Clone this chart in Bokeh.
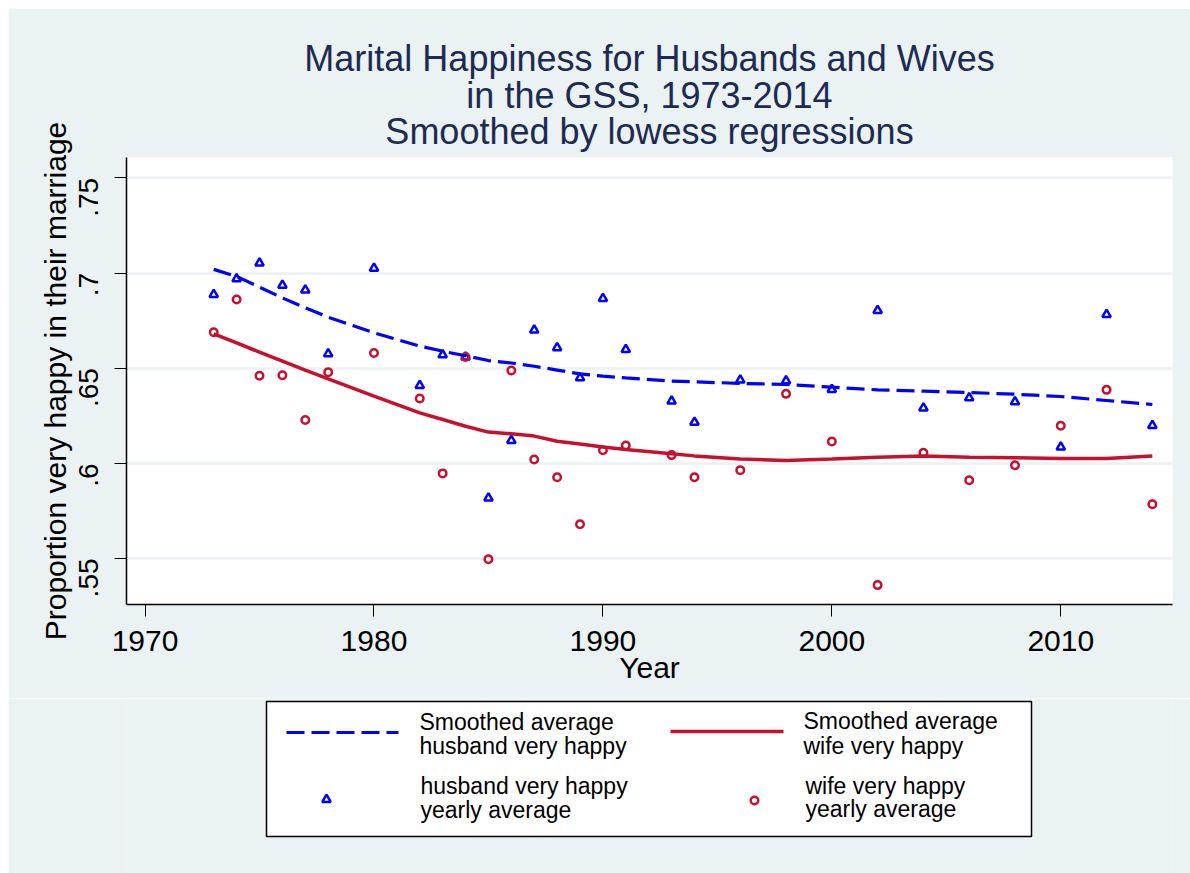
import math
from bokeh.plotting import figure
from bokeh.models import Range1d, FixedTicker, Title
from bokeh.layouts import column
from bokeh.core.properties import value
from bokeh.embed import file_html
from bokeh.resources import INLINE

years = [1973, 1974, 1975, 1976, 1977, 1978, 1980, 1982, 1983, 1984, 1985, 1986,
         1987, 1988, 1989, 1990, 1991, 1993, 1994, 1996, 1998, 2000, 2002, 2004,
         2006, 2008, 2010, 2012, 2014]
husband = [.6887, .6969, .7052, .6936, .6911, .6575, .7025, .6409, .6570, .6558, .5818, .6120,
           .6700, .6607, .6449, .6866, .6598, .6327, .6216, .6437, .6433, .6388, .6803, .6291,
           .6344, .6323, .6085, .6782, .6199]
wife = [.6689, .6861, .6460, .6463, .6228, .6479, .6580, .6341, .5947, .6559, .5496, .6488,
        .6020, .5927, .5680, .6069, .6094, .6043, .5927, .5964, .6365, .6115, .5360, .6055,
        .5911, .5990, .6197, .6386, .5785]
husband_smooth = [.7019, .6982, .6926, .6869, .6817, .6768, .6686, .6616, .6589, .6565, .6540, .6527,
                  .6510, .6490, .6470, .6458, .6449, .6432, .6428, .6420, .6414, .6400, .6386, .6379,
                  .6372, .6363, .6351, .6330, .6309]
wife_smooth = [.6680, .6633, .6584, .6537, .6490, .6444, .6353, .6265, .6230, .6195, .6164, .6155,
               .6143, .6116, .6102, .6086, .6073, .6050, .6039, .6022, .6015, .6023, .6032, .6039,
               .6032, .6029, .6025, .6025, .6039]

x_ticks = [1970, 1980, 1990, 2000, 2010]
y_ticks = [0.55, 0.60, 0.65, 0.70, 0.75]
y_tick_labels = [".55", ".6", ".65", ".7", ".75"]

title_lines = ["Marital Happiness for Husbands and Wives",
               "in the GSS, 1973-2014",
               "Smoothed by lowess regressions"]
x_label = "Year"
y_label = "Proportion very happy in their marriage"
legend_labels = [
    ["Smoothed average", "husband very happy"],
    ["Smoothed average", "wife very happy"],
    ["husband very happy", "yearly average"],
    ["wife very happy", "yearly average"],
]

BG = "#EAF2F3"
BLUE = "#0000FF"
RED = "#C8102E"
TITLE_COLOR = "#1D2B53"
FONT = "Liberation Sans"
W = 1182
BL, BR = 118, 18
FW = W - BL - BR  # 1046

# ---------- main plot ----------
p = figure(width=W, height=690, output_backend="svg", toolbar_location=None,
           x_range=Range1d(1969.19, 2014.88), y_range=Range1d(0.5258, 0.7607),
           min_border_left=BL, min_border_right=BR, min_border_top=149, min_border_bottom=94)
p.background_fill_color = "white"
p.border_fill_color = BG
p.outline_line_color = None

# title: three stacked Title panels (first added sits nearest the frame)
for txt, so in zip(reversed(title_lines), [11, -24, 11]):
    p.add_layout(Title(text=txt, align="center", text_font=FONT, text_font_size="36px",
                       text_font_style="normal", text_color=TITLE_COLOR, standoff=so), "above")

p.xgrid.grid_line_color = None
p.ygrid.grid_line_color = BG
p.ygrid.grid_line_width = 2.5
p.ygrid.ticker = FixedTicker(ticks=y_ticks)

for ax in (p.xaxis[0], p.yaxis[0]):
    ax.axis_line_color = "black"
    ax.axis_line_width = 1.5
    ax.major_tick_line_color = "black"
    ax.major_tick_line_width = 1
    ax.major_tick_out = 12
    ax.major_tick_in = 0
    ax.minor_tick_line_color = None
    ax.major_label_text_font = FONT
    ax.major_label_text_color = "black"
    ax.axis_label_text_font = FONT
    ax.axis_label_text_font_size = "30px"
    ax.axis_label_text_font_style = "normal"
    ax.axis_label_text_color = "black"

p.xaxis.ticker = FixedTicker(ticks=x_ticks)
p.xaxis.axis_label = x_label
p.xaxis.major_label_text_font_size = "30px"
p.xaxis.major_label_standoff = 14
p.xaxis.axis_label_standoff = -3

p.yaxis.ticker = FixedTicker(ticks=y_ticks)
p.yaxis.major_label_overrides = {tk: lb for tk, lb in zip(y_ticks, y_tick_labels)}
p.yaxis.major_label_orientation = math.pi / 2
p.yaxis.major_label_text_font_size = "28px"
p.yaxis.axis_label = y_label
p.yaxis.major_label_standoff = 26
p.yaxis.axis_label_standoff = -5

p.scatter(years, husband, marker="triangle", size=8.5, fill_color=None,
          line_color=BLUE, line_width=2.5)
p.scatter(years, wife, marker="circle", size=7.5, fill_color=None,
          line_color=RED, line_width=2.5)
p.line(years, husband_smooth, line_color=BLUE, line_width=3.2, line_dash="18 7")
p.line(years, wife_smooth, line_color=RED, line_width=3.5)

# ---------- legend panel ----------
lg = figure(width=W, height=175, output_backend="svg", toolbar_location=None,
            x_range=Range1d(0, FW), y_range=Range1d(175, 0),
            x_axis_type=None, y_axis_type=None,
            min_border_left=BL, min_border_right=BR, min_border_top=0, min_border_bottom=0)
lg.background_fill_color = BG
lg.border_fill_color = BG
lg.outline_line_color = None
lg.grid.grid_line_color = None

lg.quad(left=[140], right=[905], top=[3], bottom=[138], fill_color="white",
        line_color="black", line_width=1.5)
lg.line([160, 272], [34, 34], line_color=BLUE, line_width=3.2, line_dash="18 7")
lg.line([544, 657], [33, 33], line_color=RED, line_width=3.5)
lg.scatter([200], [101], marker="triangle", size=8.5, fill_color=None, line_color=BLUE, line_width=2.5)
lg.scatter([628], [102], marker="circle", size=7.5, fill_color=None, line_color=RED, line_width=2.5)

tx = [293, 293, 677, 677, 294, 294, 679, 679]
ty = [23, 47, 22, 47, 87, 111, 87, 110]
tt = [legend_labels[0][0], legend_labels[0][1], legend_labels[1][0], legend_labels[1][1],
      legend_labels[2][0], legend_labels[2][1], legend_labels[3][0], legend_labels[3][1]]
lg.text(tx, ty, text=tt, text_font=value(FONT), text_font_size="23px",
        text_baseline="alphabetic", text_align="left", text_color="black")

layout = column(p, lg, spacing=0, margin=(8, 0, 0, 8))
open("out.html", "w").write(file_html(layout, INLINE))
